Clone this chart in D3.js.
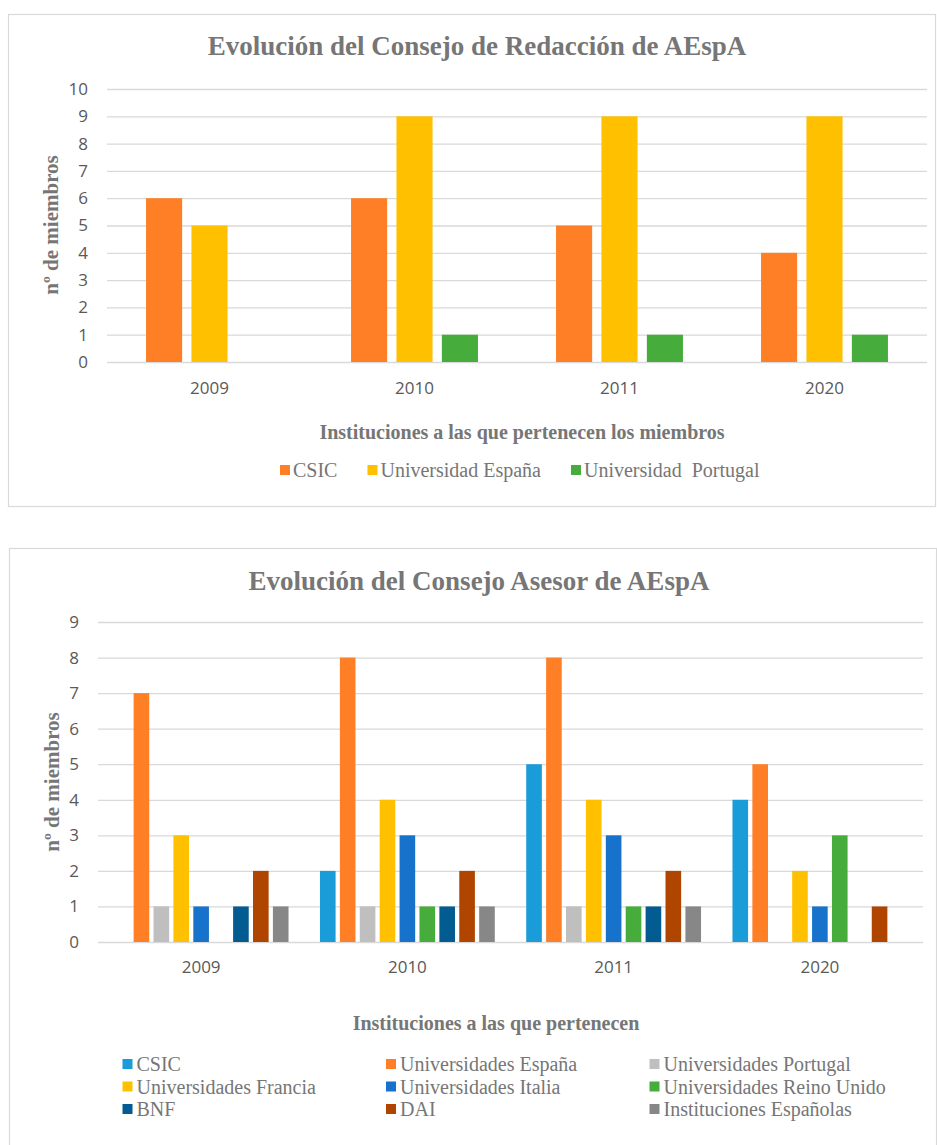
<!DOCTYPE html>
<html>
<head>
<meta charset="utf-8">
<script src="https://cdn.jsdelivr.net/npm/d3@7"></script>
<style>
  body { margin: 0; background: #fff; }
  svg { display: block; }
</style>
</head>
<body>
<div id="chart"></div>
<script>
// data
const years = ['2009', '2010', '2011', '2020'];

// chart 1: Consejo de Redacción
const redSeries = ['CSIC', 'Universidad España', 'Universidad  Portugal'];
const redCSIC = [6, 6, 5, 4];
const redEspana = [5, 9, 9, 9];
const redPortugal = [0, 1, 1, 1];
const redColors = ['#ff7f27', '#ffc000', '#46ad3c'];

// chart 2: Consejo Asesor
const aseSeries = ['CSIC', 'Universidades España', 'Universidades Portugal',
  'Universidades Francia', 'Universidades Italia', 'Universidades Reino Unido',
  'BNF', 'DAI', 'Instituciones Españolas'];
const aseCSIC = [0, 2, 5, 4];
const aseEspana = [7, 8, 8, 5];
const asePortugal = [1, 1, 1, 0];
const aseFrancia = [3, 4, 4, 2];
const aseItalia = [1, 3, 3, 1];
const aseReinoUnido = [0, 1, 1, 3];
const aseBNF = [1, 1, 1, 0];
const aseDAI = [2, 2, 2, 1];
const aseInstEsp = [1, 1, 1, 0];
const aseColors = ['#1a9cd8', '#ff7f27', '#bfbfbf', '#ffc000', '#1672cb',
  '#46ad3c', '#025c92', '#b04500', '#878787'];

const width = 937;
const height = 1145;
const gray = '#767676';
const labelGray = '#595959';
const serif = '"Liberation Serif", "Times New Roman", serif';
const sans = '"Open Sans", sans-serif';

const svg = d3.select('#chart')
  .append('svg')
  .attr('width', width)
  .attr('height', height);

function drawChart(cfg) {
  const g = svg.append('g');

  // frame
  g.append('rect')
    .attr('x', cfg.frame[0] + 0.5)
    .attr('y', cfg.frame[1] + 0.5)
    .attr('width', cfg.frame[2])
    .attr('height', cfg.frame[3])
    .attr('fill', '#fff')
    .attr('stroke', '#d9d9d9')
    .attr('stroke-width', 1.2);

  const x0 = d3.scaleBand()
    .domain(years)
    .range([cfg.left, cfg.right]);

  const x1 = d3.scaleBand()
    .domain(cfg.series)
    .range([0, x0.bandwidth()])
    .paddingInner(cfg.padIn)
    .paddingOuter(cfg.padOut);

  const y = d3.scaleLinear()
    .domain([0, cfg.max])
    .range([cfg.bottom, cfg.top]);

  // grid + y labels
  g.append('g')
    .attr('transform', `translate(${cfg.left},0)`)
    .call(d3.axisLeft(y).ticks(cfg.max).tickSize(-(cfg.right - cfg.left)).tickPadding(19))
    .call(a => a.select('.domain').remove())
    .call(a => a.selectAll('line').attr('stroke', '#d9d9d9').attr('stroke-width', 1.3))
    .call(a => a.selectAll('text')
      .attr('font-family', sans).attr('font-size', 17).attr('fill', labelGray));

  // x labels
  g.append('g')
    .attr('transform', `translate(0,${cfg.bottom})`)
    .call(d3.axisBottom(x0).tickSize(0).tickPadding(cfg.xPad))
    .call(a => a.select('.domain').remove())
    .call(a => a.selectAll('text')
      .attr('font-family', sans).attr('font-size', 17).attr('fill', labelGray));

  // bars
  const rows = [];
  years.forEach((yr, i) => {
    cfg.series.forEach((s, j) => {
      rows.push({ year: yr, series: s, value: cfg.values[j][i], color: cfg.colors[j] });
    });
  });

  g.append('g')
    .selectAll('rect')
    .data(rows.filter(d => d.value > 0))
    .join('rect')
    .attr('x', d => x0(d.year) + x1(d.series))
    .attr('y', d => y(d.value))
    .attr('width', x1.bandwidth())
    .attr('height', d => y(0) - y(d.value))
    .attr('fill', d => d.color);

  // title
  g.append('text')
    .attr('x', cfg.titleX)
    .attr('y', cfg.titleY)
    .attr('text-anchor', 'middle')
    .attr('font-family', serif)
    .attr('font-weight', 'bold')
    .attr('font-size', 27)
    .attr('fill', gray)
    .text(cfg.title);

  // y axis title
  g.append('text')
    .attr('transform', `translate(${cfg.yTitleX},${cfg.yTitleY}) rotate(-90)`)
    .attr('text-anchor', 'middle')
    .attr('font-family', serif)
    .attr('font-weight', 'bold')
    .attr('font-size', 21)
    .attr('fill', gray)
    .text('nº de miembros');

  // x axis title
  g.append('text')
    .attr('x', cfg.xTitleX)
    .attr('y', cfg.xTitleY)
    .attr('text-anchor', 'middle')
    .attr('font-family', serif)
    .attr('font-weight', 'bold')
    .attr('font-size', 20)
    .attr('fill', gray)
    .text(cfg.xTitle);

  return g;
}

// chart 1
const g1 = drawChart({
  frame: [8, 14, 927, 492],
  left: 107, right: 927, top: 89, bottom: 362, max: 10,
  series: redSeries,
  values: [redCSIC, redEspana, redPortugal],
  colors: redColors,
  padIn: 0.205, padOut: 0.86, xPad: 20,
  title: 'Evolución del Consejo de Redacción de AEspA',
  titleX: 477, titleY: 55,
  yTitleX: 58, yTitleY: 225,
  xTitle: 'Instituciones a las que pertenecen los miembros',
  xTitleX: 522, xTitleY: 439
});

// chart 1 legend (single row)
const leg1 = g1.append('g');
let lx = 280;
redSeries.forEach((s, i) => {
  leg1.append('rect')
    .attr('x', lx).attr('y', 465)
    .attr('width', 10).attr('height', 10)
    .attr('fill', redColors[i]);
  const t = leg1.append('text')
    .attr('x', lx + 13).attr('y', 477)
    .attr('font-family', serif)
    .attr('font-size', 20)
    .attr('fill', gray)
    .style('white-space', 'pre')
    .text(s);
  lx += 13 + t.node().getComputedTextLength() + 30;
});

// chart 2
const g2 = drawChart({
  frame: [9, 548, 927, 620],
  left: 98, right: 923, top: 622, bottom: 942, max: 9,
  series: aseSeries,
  values: [aseCSIC, aseEspana, asePortugal, aseFrancia, aseItalia,
    aseReinoUnido, aseBNF, aseDAI, aseInstEsp],
  colors: aseColors,
  padIn: 0.215, padOut: 0.79, xPad: 19,
  title: 'Evolución del Consejo Asesor de AEspA',
  titleX: 479, titleY: 590,
  yTitleX: 59, yTitleY: 782,
  xTitle: 'Instituciones a las que pertenecen',
  xTitleX: 496, xTitleY: 1030
});

// chart 2 legend (3 columns)
const leg2 = g2.append('g');
aseSeries.forEach((s, i) => {
  const col = i % 3;
  const row = Math.floor(i / 3);
  const lx2 = 122.5 + col * 263.5;
  const ly = 1064 + row * 22.5;
  leg2.append('rect')
    .attr('x', lx2).attr('y', ly - 5)
    .attr('width', 10).attr('height', 10)
    .attr('fill', aseColors[i]);
  leg2.append('text')
    .attr('x', lx2 + 14).attr('y', ly + 7)
    .attr('font-family', serif)
    .attr('font-size', 20)
    .attr('fill', gray)
    .text(s);
});
</script>
</body>
</html>
